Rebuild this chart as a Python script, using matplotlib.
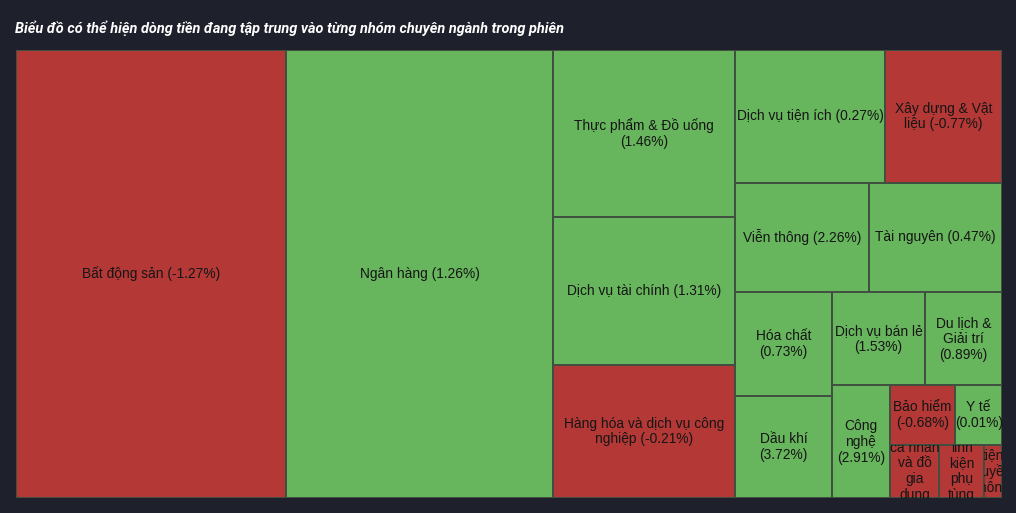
import matplotlib
matplotlib.use("Agg")
import matplotlib.pyplot as plt
from matplotlib.patches import Rectangle
from matplotlib.transforms import Bbox, TransformedBbox

TITLE = "Biểu đồ có thể hiện dòng tiền đang tập trung vào từng nhóm chuyên ngành trong phiên"

# sector names, price change (%) and relative weight (area)
names = [
    "Bất động sản", "Ngân hàng", "Thực phẩm & Đồ uống", "Dịch vụ tài chính",
    "Hàng hóa và dịch vụ công nghiệp", "Dịch vụ tiện ích", "Xây dựng & Vật liệu",
    "Viễn thông", "Tài nguyên", "Hóa chất", "Dầu khí", "Dịch vụ bán lẻ",
    "Du lịch & Giải trí", "Công nghệ", "Bảo hiểm", "Y tế",
    "Hàng cá nhân và đồ gia dụng", "Ô tô và linh kiện phụ tùng", "Phương tiện truyền thông",
]
changes = [
    -1.27, 1.26, 1.46, 1.31, -0.21, 0.27, -0.77, 2.26, 0.47, 0.73, 3.72, 1.53,
    0.89, 2.91, -0.68, 0.01, -0.45, -0.32, -1.05,
]
weights = [
    120960, 119616, 30394, 26936, 24206, 19950, 15561, 14606, 14497, 10088,
    9894, 8700, 7200, 6500, 3894, 2773, 2650, 2385, 954,
]

BG = "#1e212b"
RED = "#b33836"
GREEN = "#67b55c"
EDGE = "#3f4f40"

W, H = 986.0, 448.0


def worst(row, side):
    s = sum(row)
    return max(max(side * side * r / (s * s), s * s / (side * side * r)) for r in row)


def squarify(areas, x, y, w, h):
    rects = []
    areas = list(areas)
    while areas:
        side = min(w, h)
        row = [areas.pop(0)]
        while areas and worst(row + [areas[0]], side) <= worst(row, side):
            row.append(areas.pop(0))
        s = sum(row)
        if w > h:
            cw = s / h
            cy = y
            for a in row:
                rh = a / cw
                rects.append((x, cy, cw, rh))
                cy += rh
            x += cw
            w -= cw
        else:
            rh = s / w
            cx = x
            for a in row:
                cw = a / rh
                rects.append((cx, y, cw, rh))
                cx += cw
            y += rh
            h -= rh
    return rects


def wrap(text, width, renderer, ax, **kw):
    probe = ax.text(0, 0, "", **kw)

    def tw(s):
        probe.set_text(s)
        return probe.get_window_extent(renderer).width

    lines, cur = [], ""
    for word in text.split(" "):
        cand = word if not cur else cur + " " + word
        if cur and tw(cand) > width:
            lines.append(cur)
            cur = word
        else:
            cur = cand
    lines.append(cur)
    probe.remove()
    return "\n".join(lines)


fig = plt.figure(figsize=(10.16, 5.13), dpi=100, facecolor=BG)
ax = fig.add_axes([16 / 1016, 15 / 513, W / 1016, H / 513])
ax.set_facecolor(BG)
ax.set_xlim(0, W)
ax.set_ylim(H, 0)
ax.axis("off")

fig.text(15 / 1016, 1 - 28 / 513, TITLE, color="white", fontsize=10.45,
         fontstyle="italic", fontweight="semibold", family="Roboto", va="center", ha="left")

total = sum(weights)
areas = [v / total * W * H for v in weights]
rects = squarify(areas, 0, 0, W, H)
renderer = fig.canvas.get_renderer()
label_kw = dict(fontsize=9.9, family="Liberation Sans", color="#151515")

for name, chg, (x, y, w, h) in zip(names, changes, rects):
    rect = Rectangle((x, y), w, h, facecolor=RED if chg < 0 else GREEN,
                     edgecolor=EDGE, linewidth=1.4)
    ax.add_patch(rect)
    label = wrap(f"{name} ({chg:.2f}%)", w + 1, renderer, ax, **label_kw)
    t = ax.text(x + w / 2, y + h / 2, label, ha="center", va="center",
                multialignment="center", linespacing=1.17, **label_kw)
    t.set_clip_path(None)
    t.set_clip_box(TransformedBbox(Bbox.from_bounds(x, y, w, h), ax.transData))
    t.set_clip_on(True)

fig.savefig("out.png", dpi=100, facecolor=BG)
